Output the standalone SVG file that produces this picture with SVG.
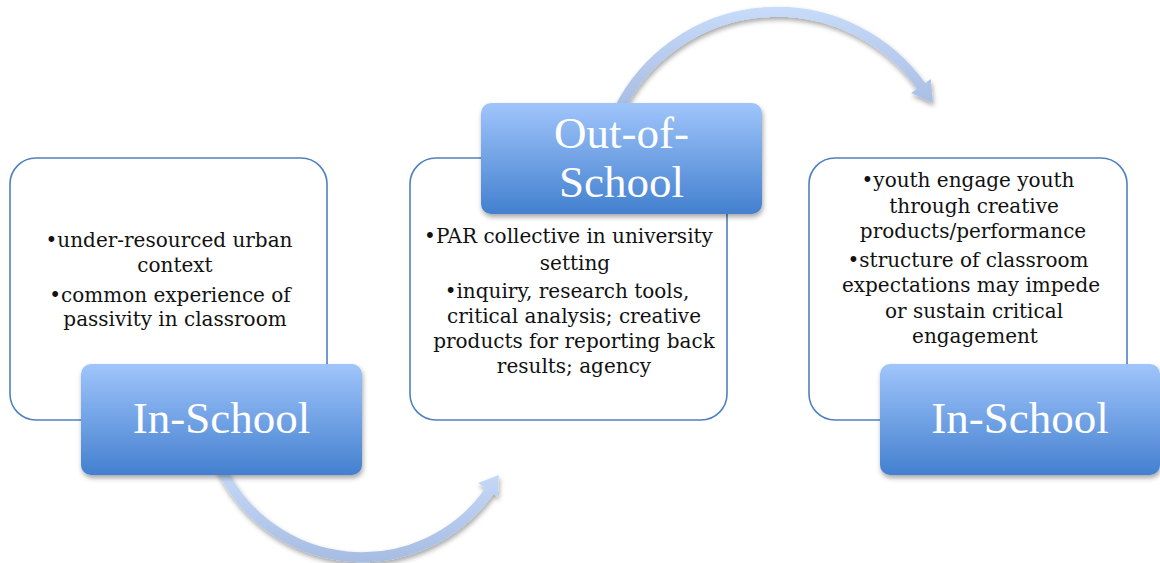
<svg xmlns="http://www.w3.org/2000/svg" width="1160" height="563" viewBox="0 0 1160 563">
  <defs>
    <linearGradient id="tabFill" x1="0" y1="0" x2="0" y2="1">
      <stop offset="0" stop-color="#a0c5fb"/>
      <stop offset="1" stop-color="#4380cf"/>
    </linearGradient>
    <linearGradient id="arcTop" gradientUnits="userSpaceOnUse" x1="0" y1="5" x2="0" y2="110">
      <stop offset="0" stop-color="#c8dcfa"/>
      <stop offset="1" stop-color="#a6bce2"/>
    </linearGradient>
    <linearGradient id="arcBottom" gradientUnits="userSpaceOnUse" x1="0" y1="462" x2="0" y2="562">
      <stop offset="0" stop-color="#c8dcfa"/>
      <stop offset="1" stop-color="#a6bce2"/>
    </linearGradient>
    <filter id="softShadow" x="-10%" y="-10%" width="130%" height="140%">
      <feDropShadow dx="1" dy="3" stdDeviation="2.5" flood-color="#000" flood-opacity="0.35"/>
    </filter>
  </defs>
  <style>
    .panel { fill: #ffffff; stroke: #4f81bd; stroke-width: 1.6; }
    .tab { fill: url(#tabFill); filter: url(#softShadow); }
    .body { font-family: "DejaVu Serif", "Liberation Serif", serif; font-size: 20px; fill: #111111; text-anchor: middle; }
    .title { font-family: "Liberation Serif", "DejaVu Serif", serif; font-size: 45px; fill: #ffffff; text-anchor: middle; }
    .shaft { fill: none; stroke-width: 10; }
  </style>

  <rect width="1160" height="563" fill="#ffffff"/>

  <!-- curved connectors -->
  <g id="connectors" filter="url(#softShadow)">
    <g id="arrow-in-to-out">
      <path class="shaft" stroke="url(#arcBottom)" d="M 219.6 465 A 156 156 0 0 0 489.5 491"/>
      <polygon fill="url(#arcBottom)" points="478.2,483 498.8,475 497.8,497"/>
    </g>
    <g id="arrow-out-to-in">
      <path class="shaft" stroke="url(#arcTop)" d="M 619.3 108.6 A 177 177 0 0 1 921.5 86.5"/>
      <polygon fill="url(#arcTop)" points="911.2,93 933,103 930.8,79"/>
    </g>
  </g>

  <!-- stage 1: in-school -->
  <g id="stage-1">
    <rect class="panel" x="10" y="158" width="317" height="262" rx="26"/>
    <text class="body" x="169" y="247">•under-resourced urban</text>
    <text class="body" x="175" y="272">context</text>
    <text class="body" x="170" y="302">•common experience of</text>
    <text class="body" x="175" y="326">passivity in classroom</text>
    <rect class="tab" x="81" y="364" width="281" height="111" rx="10"/>
    <text class="title" x="221.5" y="433">In-School</text>
  </g>

  <!-- stage 2: out-of-school -->
  <g id="stage-2">
    <rect class="panel" x="410" y="158" width="317" height="262" rx="26"/>
    <text class="body" x="568.5" y="243">•PAR collective in university</text>
    <text class="body" x="575" y="270">setting</text>
    <text class="body" x="567" y="298">•inquiry, research tools,</text>
    <text class="body" x="574" y="323">critical analysis; creative</text>
    <text class="body" x="574" y="348">products for reporting back</text>
    <text class="body" x="574" y="373">results; agency</text>
    <rect class="tab" x="481" y="103" width="281" height="111" rx="10"/>
    <text class="title" x="621.5" y="148">Out-of-</text>
    <text class="title" x="621.5" y="197">School</text>
  </g>

  <!-- stage 3: back in school -->
  <g id="stage-3">
    <rect class="panel" x="809" y="158" width="318" height="262" rx="26"/>
    <text class="body" x="968" y="187">•youth engage youth</text>
    <text class="body" x="974" y="213">through creative</text>
    <text class="body" x="973" y="238">products/performance</text>
    <text class="body" x="968" y="267">•structure of classroom</text>
    <text class="body" x="971" y="292">expectations may impede</text>
    <text class="body" x="974" y="318">or sustain critical</text>
    <text class="body" x="975" y="343">engagement</text>
    <rect class="tab" x="880" y="364" width="280" height="111" rx="10"/>
    <text class="title" x="1020" y="433">In-School</text>
  </g>
</svg>
